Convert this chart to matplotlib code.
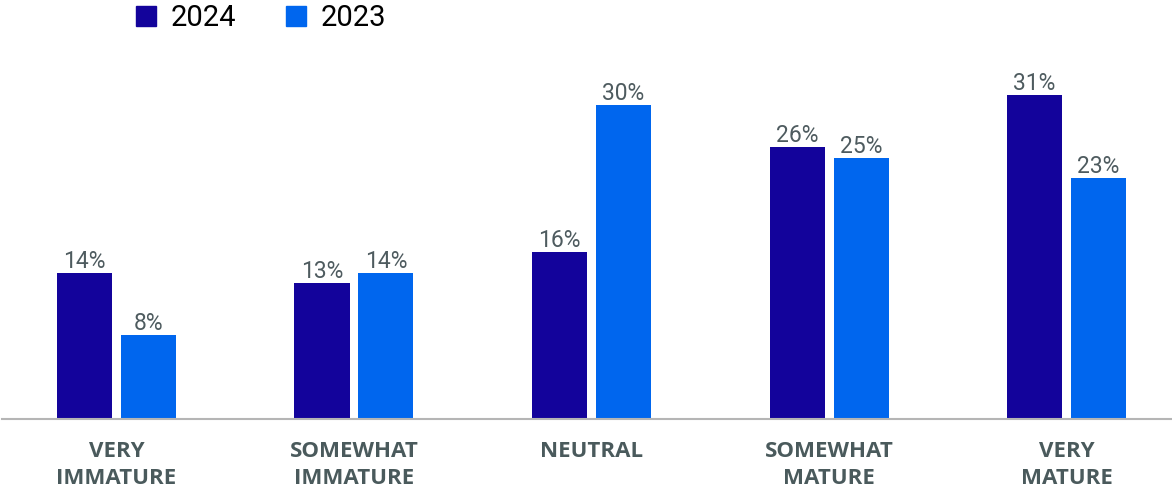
import numpy as np
import matplotlib
from matplotlib import pyplot as plt
from matplotlib.lines import Line2D
matplotlib.rcParams['font.family'] = ['Roboto', 'DejaVu Sans']

categories = ['VERY\nIMMATURE', 'SOMEWHAT\nIMMATURE', 'NEUTRAL', 'SOMEWHAT\nMATURE', 'VERY\nMATURE']
vals_2024 = [14, 13, 16, 26, 31]
vals_2023 = [8, 14, 30, 25, 23]
series = ['2024', '2023']

c_dark = '#13039B'
c_light = '#0066EE'
c_text = '#4E5B5F'

fig = plt.figure(figsize=(11.72, 4.94), dpi=100)
ax = fig.add_axes([2/1172, 75/494, 1170/1172, 366/494])

x = np.arange(len(categories))
w = 0.2316
off = 0.1347
b1 = ax.bar(x - off, vals_2024, w, color=c_dark)
b2 = ax.bar(x + off, vals_2023, w, color=c_light)

for bars, vals in [(b1, vals_2024), (b2, vals_2023)]:
    for b, v in zip(bars, vals):
        ax.annotate('%d%%' % v, (b.get_x() + b.get_width()/2, b.get_height()),
                    xytext=(0, 0), textcoords='offset points',
                    ha='center', va='bottom', fontsize=16.5, color=c_text)

ax.set_xlim(-0.482, 4.444)
ax.set_ylim(0, 35)
ax.set_xticks(x)
ax.set_xticklabels(categories, fontsize=16, fontweight='bold', color='#4A5A5C',
                   linespacing=1.38, family=['Open Sans', 'DejaVu Sans'])
ax.tick_params(axis='x', length=0, pad=16)
ax.set_yticks([])
for s in ['top', 'right', 'left']:
    ax.spines[s].set_visible(False)
ax.spines['bottom'].set_color('#B5B5B5')
ax.spines['bottom'].set_linewidth(1.5)

handles = [Line2D([], [], marker='s', linestyle='', markersize=14.5, color=c)
           for c in [c_dark, c_light]]
fig.legend(handles, series, loc='center left', bbox_to_anchor=(124/1172, 1 - 18/494),
           ncol=2, frameon=False, fontsize=21, handlelength=0.7,
           handletextpad=0.5, columnspacing=1.7, borderaxespad=0)

plt.savefig('out.png', dpi=100)
